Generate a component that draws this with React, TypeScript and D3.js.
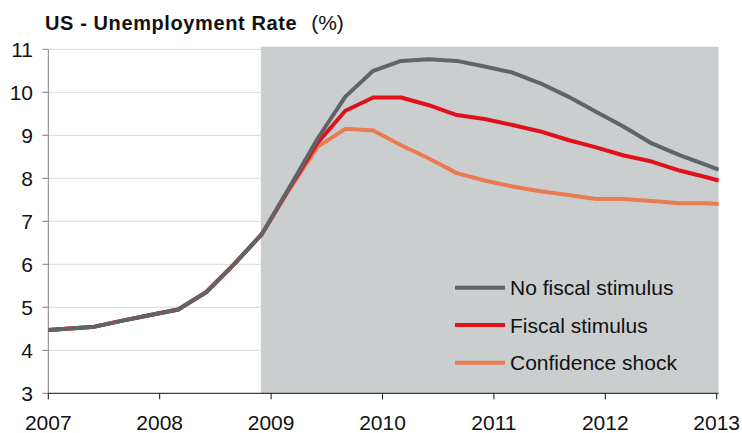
import React from "react";
import * as d3 from "d3";

// months since Jan 2007
const months = [0, 2, 5, 8, 11, 14, 17, 20, 23, 26, 29, 32, 35, 38, 41, 44, 47, 50, 53, 56, 59, 62, 65, 68, 71, 72.2];
const noFiscal = [4.47, 4.5, 4.55, 4.69, 4.82, 4.95, 5.35, 6.0, 6.7, 7.8, 8.92, 9.9, 10.5, 10.73, 10.77, 10.73, 10.6, 10.46, 10.21, 9.9, 9.55, 9.2, 8.81, 8.54, 8.3, 8.2];
const fiscal = [4.47, 4.5, 4.55, 4.69, 4.82, 4.95, 5.35, 6.0, 6.7, 7.78, 8.82, 9.57, 9.88, 9.88, 9.7, 9.47, 9.38, 9.24, 9.09, 8.89, 8.72, 8.53, 8.39, 8.18, 8.02, 7.95];
const confidence = [4.47, 4.5, 4.55, 4.69, 4.82, 4.95, 5.35, 6.0, 6.7, 7.75, 8.73, 9.15, 9.11, 8.77, 8.46, 8.12, 7.95, 7.81, 7.7, 7.61, 7.52, 7.52, 7.47, 7.42, 7.42, 7.4];
const yearLabels = ["2007", "2008", "2009", "2010", "2011", "2012", "2013"];
const yTicks = [3, 4, 5, 6, 7, 8, 9, 10, 11];
const seriesNames = ["No fiscal stimulus", "Fiscal stimulus", "Confidence shock"];
const shadeStart = 22.9;
const shadeEnd = 72.2;

const colors = ["#5f6469", "#e0111b", "#ea7a50"];

export default function App() {
  const W = 742, H = 433;
  const x = d3.scaleLinear().domain([0, 72]).range([48.3, 716.7]);
  const y = d3.scaleLinear().domain([3, 11]).range([393.3, 49.3]);
  const line = d3
    .line<number>()
    .x((_, i) => x(months[i]))
    .y((d) => y(d))
    .curve(d3.curveLinear);
  const series = [noFiscal, fiscal, confidence];
  const drawOrder = [2, 1, 0];
  const font = "'Liberation Sans', Arial, sans-serif";
  const legendY = [287.7, 325, 362.7];

  return (
    <svg width={W} height={H} style={{ position: "absolute", left: 0, top: 0, background: "#fff" }} fontFamily={font}>
      {/* gridlines */}
      {yTicks.slice(1).map((t) => (
        <line key={t} x1={x(0)} x2={x(72.2)} y1={y(t)} y2={y(t)} stroke="#d9d9d9" strokeWidth={1} />
      ))}
      {/* shaded forecast area */}
      <rect x={x(shadeStart)} y={y(11.06)} width={x(shadeEnd) - x(shadeStart)} height={y(3) - y(11.06)} fill="#cbcecf" />
      {/* y axis */}
      <line x1={x(0)} x2={x(0)} y1={y(11)} y2={y(3)} stroke="#7f7f7f" strokeWidth={1} />
      {yTicks.map((t) => (
        <g key={t}>
          <line x1={x(0) - 6} x2={x(0)} y1={y(t)} y2={y(t)} stroke="#7f7f7f" />
          <text x={33} y={y(t)} dy="0.36em" textAnchor="end" fontSize={21} fill="#111">
            {t}
          </text>
        </g>
      ))}
      {/* x axis */}
      <line x1={x(0)} x2={x(72.2)} y1={y(3)} y2={y(3)} stroke="#111" strokeWidth={1} />
      {yearLabels.map((lab, i) => (
        <g key={lab}>
          <line x1={x(i * 12)} x2={x(i * 12)} y1={y(3)} y2={y(3) + 6} stroke="#111" />
          <text x={x(i * 12)} y={430} textAnchor="middle" fontSize={21} fill="#111">
            {lab}
          </text>
        </g>
      ))}
      {/* lines */}
      {drawOrder.map((si) => (
        <path key={si} d={line(series[si]) || ""} fill="none" stroke={colors[si]} strokeWidth={4} strokeLinejoin="round" />
      ))}
      {/* legend */}
      {seriesNames.map((n, i) => (
        <g key={n}>
          <line x1={455} x2={505} y1={legendY[i]} y2={legendY[i]} stroke={colors[i]} strokeWidth={4} />
          <text x={510} y={legendY[i]} dy="0.36em" fontSize={21} fill="#111">
            {n}
          </text>
        </g>
      ))}
      {/* title */}
      <text x={45} y={30} fontSize={20} fill="#111">
        <tspan fontWeight="bold" letterSpacing={0.6}>US - Unemployment Rate</tspan>
        <tspan dx={14} fontSize={21}>(%)</tspan>
      </text>
    </svg>
  );
}
